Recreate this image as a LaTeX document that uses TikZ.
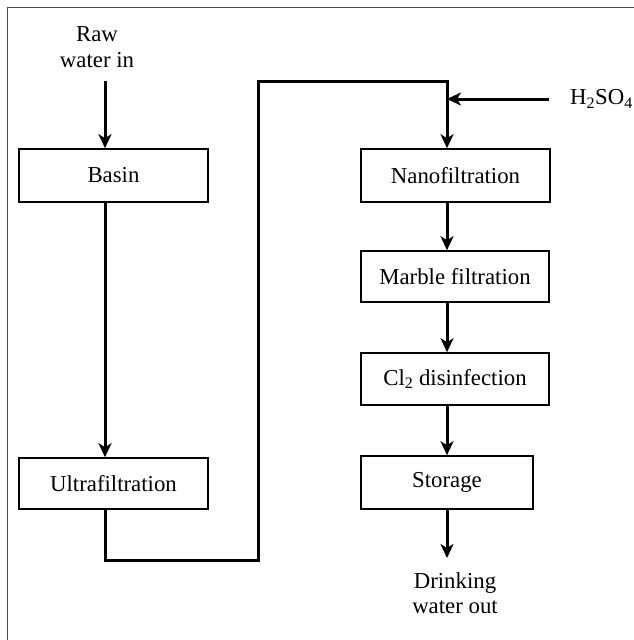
\documentclass[tikz,border=0pt]{standalone}
\usepackage{fontspec}
\setmainfont{Liberation Serif}
\usetikzlibrary{arrows.meta}
\begin{document}
\begin{tikzpicture}[x=1pt,y=-1pt,
 box/.style={draw, line width=1.6pt, minimum height=53pt, inner sep=0pt, font=\fontsize{22.8}{26}\selectfont},
 flow/.style={line width=3pt, line join=miter, -{Stealth[length=14pt,width=13pt,inset=4pt]}},
 lbl/.style={align=center, font=\fontsize{22.8}{25.5}\selectfont, inner sep=0pt}]
\useasboundingbox (0,0) rectangle (634,640);
\draw[line width=1pt, black!70] (7,7) rectangle (700,700);
\node[box, minimum width=189pt] (basin) at (113.5,175.5) {Basin};
\node[box, minimum width=189pt, minimum height=51pt] (ultra) at (113.5,483.5) {Ultrafiltration};
\node[box, minimum width=189pt] (nano) at (455.5,175.5) {Nanofiltration};
\node[box, minimum width=188pt, minimum height=51pt] (marble) at (455,276.5) {Marble filtration};
\node[box, minimum width=188pt, minimum height=52pt] (cl) at (455,379) {Cl\textsubscript{2} disinfection};
\node[box, minimum width=172pt, minimum height=53pt] (storage) at (447,482.5) {Storage};
\node[lbl] (raw) at (97,47) {Raw\\water in};
\node[lbl] (drink) at (455,593) {Drinking\\water out};
\node[lbl, anchor=west] (acid) at (570,99) {H\textsubscript{2}SO\textsubscript{4}};
\coordinate (in) at (105,81);
\coordinate (p1) at (258,560);
\coordinate (p2) at (447,81);
\coordinate (a) at (549,99);
\coordinate (out) at (447,558);
\draw[flow] (in) -- (basin.north -| in);
\draw[flow] (basin.south -| in) -- (ultra.north -| in);
\draw[flow] (ultra.south -| in) |- (p1) |- (p2) -- (nano.north -| p2);
\draw[flow] (a) -- (a -| p2);
\draw[flow] (nano.south -| p2) -- (marble.north -| p2);
\draw[flow] (marble.south -| p2) -- (cl.north -| p2);
\draw[flow] (cl.south -| p2) -- (storage.north -| p2);
\draw[flow] (storage.south -| p2) -- (out);
\end{tikzpicture}
\end{document}
